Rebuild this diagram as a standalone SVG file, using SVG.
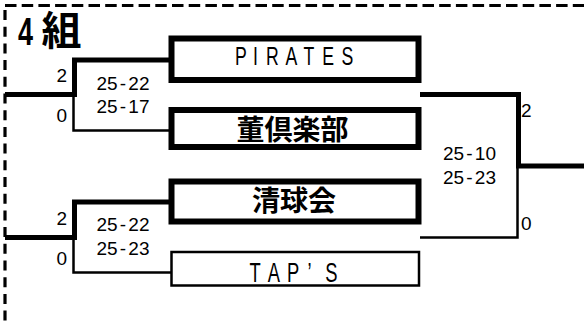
<svg xmlns="http://www.w3.org/2000/svg" width="584" height="326" viewBox="0 0 584 326">
<style>
.frame{fill:none;stroke:#000;stroke-width:3.2}
.thick{fill:none;stroke:#000;stroke-width:5;stroke-linejoin:miter}
.thin{fill:none;stroke:#000;stroke-width:2.5;stroke-linejoin:miter}
.box{fill:#fff;stroke:#000;stroke-width:6}
.boxthin{fill:#fff;stroke:#000;stroke-width:2.5}
.num{font-family:"Liberation Sans",Arial,sans-serif;font-size:19px;fill:#000}
.cjk{font-family:"Noto Sans CJK JP","Noto Sans CJK SC",sans-serif;font-weight:bold;font-size:28px;fill:#000}
.lat{font-family:"Liberation Sans",Arial,sans-serif;fill:#000;text-anchor:middle}
</style>
<rect width="584" height="326" fill="#fff"/>
<g id="frame">
<path class="frame" d="M5,5.5 H584" stroke-dasharray="11.5 5.2"/>
<path class="frame" d="M5,10 V326" stroke-dasharray="10 6.7"/>
</g>
<g id="title">
<text x="18" y="45" font-family="Liberation Sans,Arial,sans-serif" font-weight="bold" font-size="39" textLength="15" lengthAdjust="spacingAndGlyphs">4</text>
<text x="41.5" y="45" font-family="Noto Sans CJK JP,Noto Sans CJK SC,sans-serif" font-weight="bold" font-size="40">組</text>
</g>
<g id="connectors">
<path class="thick" d="M5,94.5 H74.5 V60 H171"/>
<path class="thin" d="M73.5,94.5 V130.5 H171"/>
<path class="thick" d="M5,237.5 H74.5 V202 H171"/>
<path class="thin" d="M73.5,237.5 V272.5 H171"/>
<path class="thick" d="M420,94.5 H518.5 V166 H584"/>
<path class="thin" d="M420,237.5 H517.5 V166"/>
</g>
<g id="scores">
<text class="num" x="56.5" y="82">2</text>
<text class="num" x="56.5" y="122">0</text>
<text class="num" x="96.5" y="90">25<tspan dx="2.2">-</tspan><tspan dx="2.2">22</tspan></text>
<text class="num" x="96.5" y="113">25<tspan dx="2.2">-</tspan><tspan dx="2.2">17</tspan></text>
<text class="num" x="56.5" y="225">2</text>
<text class="num" x="56.5" y="265">0</text>
<text class="num" x="96.5" y="231">25<tspan dx="2.2">-</tspan><tspan dx="2.2">22</tspan></text>
<text class="num" x="96.5" y="255">25<tspan dx="2.2">-</tspan><tspan dx="2.2">23</tspan></text>
<text class="num" x="521" y="117">2</text>
<text class="num" x="521" y="230">0</text>
<text class="num" x="443" y="160">25<tspan dx="2.2">-</tspan><tspan dx="2.2">10</tspan></text>
<text class="num" x="443" y="184">25<tspan dx="2.2">-</tspan><tspan dx="2.2">23</tspan></text>
</g>
<g id="team-pirates">
<rect class="box" x="171.5" y="38.5" width="247" height="41.5"/>
<g transform="translate(0,65) scale(0.68,1)">
<text class="lat" font-size="26" y="0" x="354.4 375.7 400.7 428.7 454.4 482.4 511.0">PIRATES</text>
</g>
</g>
<g id="team-sumire">
<rect class="box" x="171.5" y="110" width="247" height="37"/>
<text class="cjk" x="292.5" y="140" text-anchor="middle">董倶楽部</text>
</g>
<g id="team-seikyukai">
<rect class="box" x="171.5" y="181.5" width="247" height="40"/>
<text class="cjk" x="294" y="211" text-anchor="middle">清球会</text>
</g>
<g id="team-taps">
<rect class="boxthin" x="171.5" y="252" width="247.5" height="33.5"/>
<g transform="translate(0,282) scale(0.68,1)">
<text class="lat" font-size="27" y="0" x="375 402.9 430.9 455.1 487.5">TAP’S</text>
</g>
</g>
</svg>
